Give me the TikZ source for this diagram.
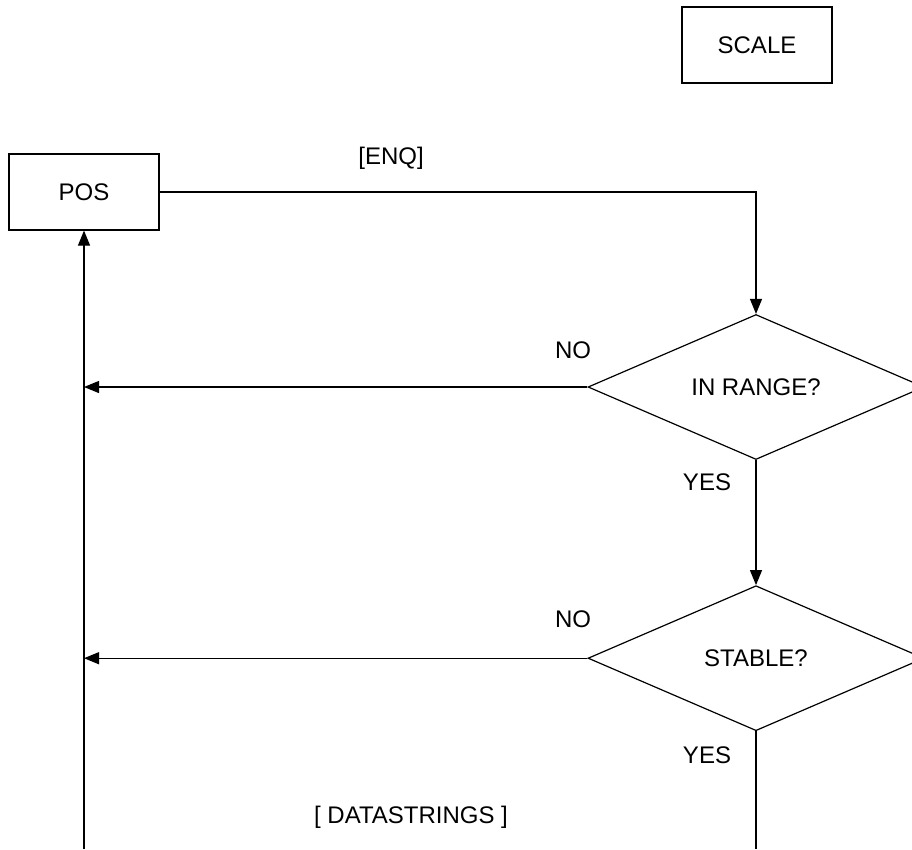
\documentclass[tikz,border=0pt]{standalone}
\usepackage{fontspec}
\setmainfont{Liberation Sans}
\usepackage{tikz}
\usetikzlibrary{positioning, arrows.meta, shapes.geometric}
\tikzset{
    box/.style={rectangle, draw=black, line width=1.2pt, fill=white, align=center, minimum width=150pt, minimum height=76pt, font=\fontsize{24}{28}\selectfont},
    decision/.style={diamond, draw=black, line width=1.2pt, fill=white, aspect=2.3, inner sep=0pt, minimum width=336pt, minimum height=145pt, align=center, font=\fontsize{24}{28}\selectfont},
    lbl/.style={inner sep=0pt, font=\fontsize{24}{28}\selectfont},
    arrow/.style={-{Triangle[length=15pt, width=12pt]}, line width=1.2pt},
    line/.style={line width=1.2pt}
}
\begin{document}
\begin{tikzpicture}[x=1pt, y=-1pt]
        \useasboundingbox (0,0) rectangle (912,849);

        % Boxes
        \node[box] (pos) at (84,192) {POS};
        \node[box] (scale) at (757,45) {SCALE};

        % Checks
        \node[decision] (range) at (756,387) {IN RANGE?};
        \node[decision, below=125pt of range] (stable) {STABLE?};

        % Labels
        \node[lbl] (enq) at (391,158) {[ENQ]};
        \node[lbl] (no1) at (573,350) {NO};
        \node[lbl] (yes1) at (707,482) {YES};
        \node[lbl] (no2) at (573,619) {NO};
        \node[lbl] (yes2) at (707,755) {YES};
        \node[lbl] (data) at (411,817) {[ DATASTRINGS ]};

        % Free ends
        \coordinate (outend) at (stable.south |- 0,849);
        \coordinate (backend) at (pos.south |- 0,849);

        % Connections
        \draw[arrow] (pos.east) -| (range.north);
        \draw[arrow] (range.west) -- (pos.south |- range.west);
        \draw[arrow] (range.south) -- (stable.north);
        \draw[arrow] (stable.west) -- (pos.south |- stable.west);
        \draw[line] (stable.south) -- (outend);
        \draw[arrow] (backend) -- (pos.south);
    \end{tikzpicture}
\end{document}
